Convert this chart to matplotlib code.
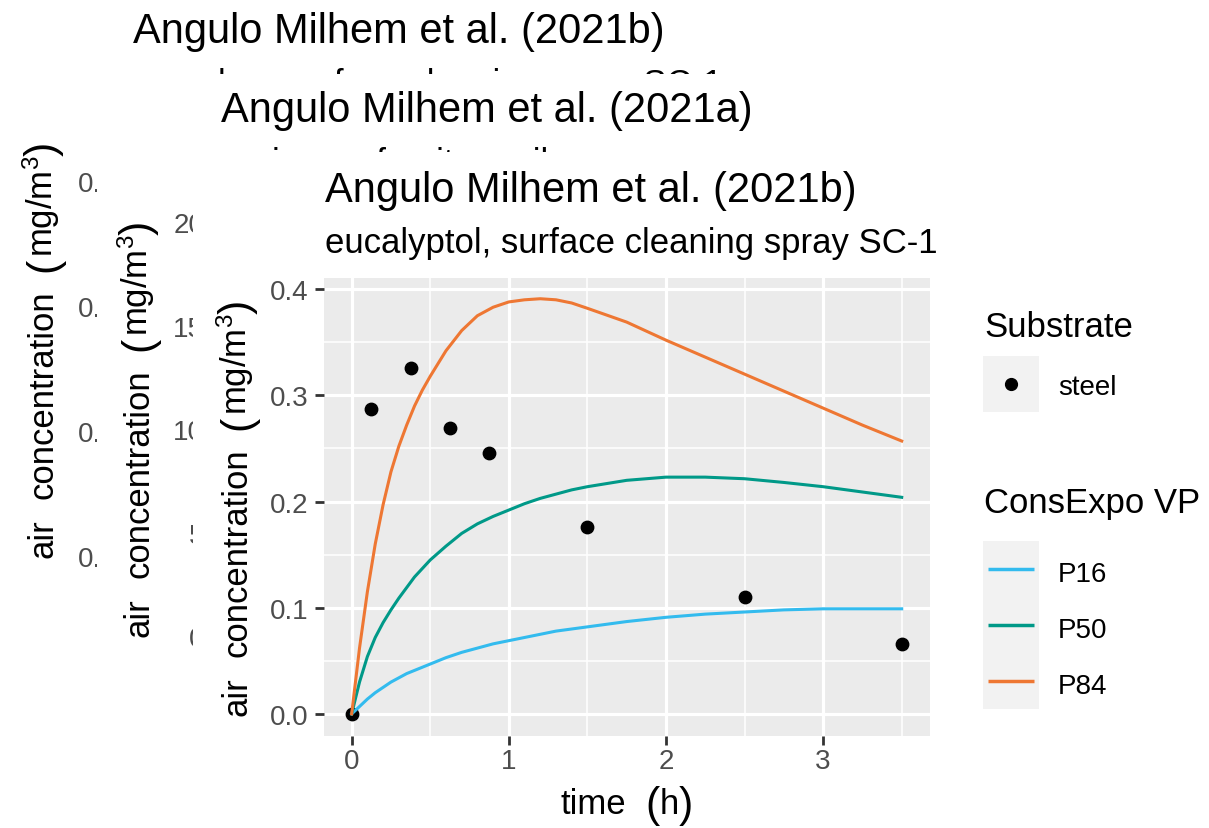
import matplotlib
matplotlib.use('Agg')
import matplotlib.pyplot as plt
from matplotlib.patches import Rectangle
from matplotlib.ticker import FormatStrFormatter
from matplotlib.font_manager import FontProperties

FAMILY = ['Liberation Sans', 'DejaVu Sans']
plt.rcParams['font.family'] = FAMILY
plt.rcParams['mathtext.fontset'] = 'custom'
plt.rcParams['mathtext.rm'] = 'Liberation Sans'
plt.rcParams['mathtext.it'] = 'Liberation Sans:italic'
plt.rcParams['mathtext.bf'] = 'Liberation Sans:bold'

# ── data (front panel) ───────────────────────────────────────────────────────
time_obs = [0.0, 0.125, 0.375, 0.625, 0.875, 1.5, 2.5, 3.5]
conc_steel = [0.0, 0.287, 0.326, 0.269, 0.246, 0.176, 0.110, 0.066]

time_model = [0, 0.05, 0.1, 0.15, 0.2, 0.25, 0.3, 0.35, 0.4, 0.45, 0.5, 0.6,
              0.7, 0.8, 0.9, 1.0, 1.1, 1.2, 1.3, 1.4, 1.5, 1.75, 2.0, 2.25,
              2.5, 2.75, 3.0, 3.25, 3.5]
conc_p16 = [0, 0.007, 0.014, 0.020, 0.025, 0.030, 0.034, 0.038, 0.041, 0.044,
            0.047, 0.053, 0.058, 0.062, 0.066, 0.069, 0.072, 0.075, 0.078,
            0.080, 0.082, 0.087, 0.091, 0.094, 0.096, 0.098, 0.099, 0.099,
            0.099]
conc_p50 = [0, 0.030, 0.054, 0.072, 0.086, 0.098, 0.109, 0.119, 0.129, 0.137,
            0.145, 0.158, 0.170, 0.179, 0.186, 0.192, 0.198, 0.203, 0.207,
            0.211, 0.214, 0.220, 0.223, 0.223, 0.2215, 0.218, 0.214, 0.209,
            0.204]
conc_p84 = [0, 0.062, 0.115, 0.160, 0.197, 0.228, 0.252, 0.272, 0.290, 0.305,
            0.318, 0.342, 0.361, 0.375, 0.383, 0.388, 0.390, 0.391, 0.390,
            0.387, 0.382, 0.369, 0.352, 0.336, 0.320, 0.304, 0.288, 0.272,
            0.257]

vp_names = ['P16', 'P50', 'P84']
vp_colors = ['#33BBEE', '#009988', '#EE7733']

titles = ['Angulo Milhem et al. (2021b)', 'Angulo Milhem et al. (2021a)',
          'Angulo Milhem et al. (2021b)']
subtitles = ['camphor, surface cleaning spray SC-1', 'α-pinene, furniture oil',
             'eucalyptol, surface cleaning spray SC-1']
yticks_list = [[0.0, 0.2, 0.4, 0.6], [0, 5, 10, 15, 20], [0.0, 0.1, 0.2, 0.3, 0.4]]
yfmt_list = ['%.1f', '%d', '%.1f']
xticks = [0, 1, 2, 3]

# ── layout (pixels, y measured from top) ─────────────────────────────────────
W, H = 1209, 829
PANEL_BG = [(0, 0), (97, 75), (193, 153)]
PLOT_BOX = [(132, 120.5, 740, 578.5), (220, 199.5, 834, 657.5),
            (324, 278.5, 930, 736.5)]
TITLE_Y = [43, 122, 202]
YLAB_X = [53, 148, 247]
YLIMS = [(-0.0344, 0.698), (-0.99, 21.14), (-0.0203, 0.411)]
XLIM = (-0.176, 3.68)
PT = 100 / 72.0


def rect(l, t, r, b):
    return [l / W, 1 - b / H, (r - l) / W, (b - t) / H]


fig = plt.figure(figsize=(W / 100, H / 100), dpi=100)
fig.patch.set_facecolor('white')
renderer = fig.canvas.get_renderer()


def text_w(s, size):
    fp = FontProperties(family=FAMILY, size=size)
    w, _, _ = renderer.get_text_width_height_descent(s, fp, ismath=('$' in s))
    return w


def space(n, size=25):
    return (None, 0.278 * size * PT * n)


# axis titles in plotmath style: larger brackets around the unit
YLAB = [('air', 25), space(2), ('concentration', 25), space(2), ('(', 31),
        ('$\\mathrm{mg/m^{3}}$', 25), (')', 31)]
XLAB = [('time', 25), space(2), ('(', 31), ('h', 25), (')', 31)]


def draw_parts(bg, x, y, parts, rotated=False, base=25):
    widths = [size if s is None else text_w(s, size) for s, size in parts]
    pos = -sum(widths) / 2
    for (s, size), w in zip(parts, widths):
        if s is not None:
            shift = 0.26 * (size - base) * PT
            if rotated:
                bg.text(x + shift, y - pos, s, fontsize=size, rotation=90,
                        rotation_mode='anchor', ha='left', va='baseline')
            else:
                bg.text(x + pos, y + shift, s, fontsize=size, ha='left',
                        va='baseline')
        pos += w


plot_axes = []
bg_axes = []
for i in range(3):
    bl, bt = PANEL_BG[i]
    bg = fig.add_axes(rect(bl, bt, W, H), zorder=2 * i)
    bg.set_facecolor('white')
    bg.set_xticks([])
    bg.set_yticks([])
    bg.set_xlim(bl, W)
    bg.set_ylim(H, bt)
    for s in bg.spines.values():
        s.set_visible(False)

    l, t, r, b = PLOT_BOX[i]
    ax = fig.add_axes(rect(l, t, r, b), zorder=2 * i + 1, facecolor='#EBEBEB')
    yt = yticks_list[i]
    step = yt[1] - yt[0]
    ax.set_xticks(xticks)
    ax.set_yticks(yt)
    ax.set_yticks([v + step / 2 for v in yt], minor=True)
    ax.set_xticks([v + 0.5 for v in xticks], minor=True)
    ax.set_xlim(*XLIM)
    ax.set_ylim(*YLIMS[i])
    ax.yaxis.set_major_formatter(FormatStrFormatter(yfmt_list[i]))
    ax.set_axisbelow(True)
    ax.grid(which='major', color='white', lw=2.3)
    ax.grid(which='minor', color='white', lw=1.15)
    for s in ax.spines.values():
        s.set_visible(False)
    ax.tick_params(which='major', length=6.3, width=2.0, color='#333333',
                   labelsize=20, labelcolor='#4D4D4D')
    ax.tick_params(axis='y', pad=5)
    ax.tick_params(axis='x', pad=3)
    ax.tick_params(which='minor', length=0)

    # titles and axis titles live on the panel background
    bg.text(l + 1, TITLE_Y[i], titles[i], fontsize=30, ha='left', va='baseline')
    bg.text(l + 1, TITLE_Y[i] + 51, subtitles[i], fontsize=25, ha='left',
            va='baseline')
    draw_parts(bg, YLAB_X[i], (t + b) / 2, YLAB, rotated=True)
    draw_parts(bg, (l + r) / 2, b + 78, XLAB)

    plot_axes.append(ax)
    bg_axes.append(bg)

# ── front panel data ─────────────────────────────────────────────────────────
ax = plot_axes[2]
ax.scatter(time_obs, conc_steel, s=80, color='black', zorder=2, clip_on=False)
for name, col, vals in zip(vp_names, vp_colors, [conc_p16, conc_p50, conc_p84]):
    ax.plot(time_model, vals, color=col, lw=2.2, zorder=3)

# ── legends (ggplot style) ───────────────────────────────────────────────────
bg = bg_axes[2]
bg.text(984, 337, 'Substrate', fontsize=25, ha='left', va='baseline')
bg.add_patch(Rectangle((983, 357), 56, 56, facecolor='#F2F2F2', edgecolor='none'))
bg.plot([1011], [385], 'o', color='black', ms=8.5)
bg.text(1058, 395, 'steel', fontsize=20, ha='left', va='baseline')

bg.text(984, 513, 'ConsExpo VP', fontsize=25, ha='left', va='baseline')
bg.add_patch(Rectangle((983, 542), 56, 168, facecolor='#F2F2F2', edgecolor='none'))
for k, (name, col) in enumerate(zip(vp_names, vp_colors)):
    yk = 570 + 56 * k
    bg.plot([988, 1034], [yk, yk], color=col, lw=2.5, solid_capstyle='butt')
    bg.text(1058, yk + 12, name, fontsize=20, ha='left', va='baseline')

fig.savefig('out.png', dpi=100, facecolor='white')
